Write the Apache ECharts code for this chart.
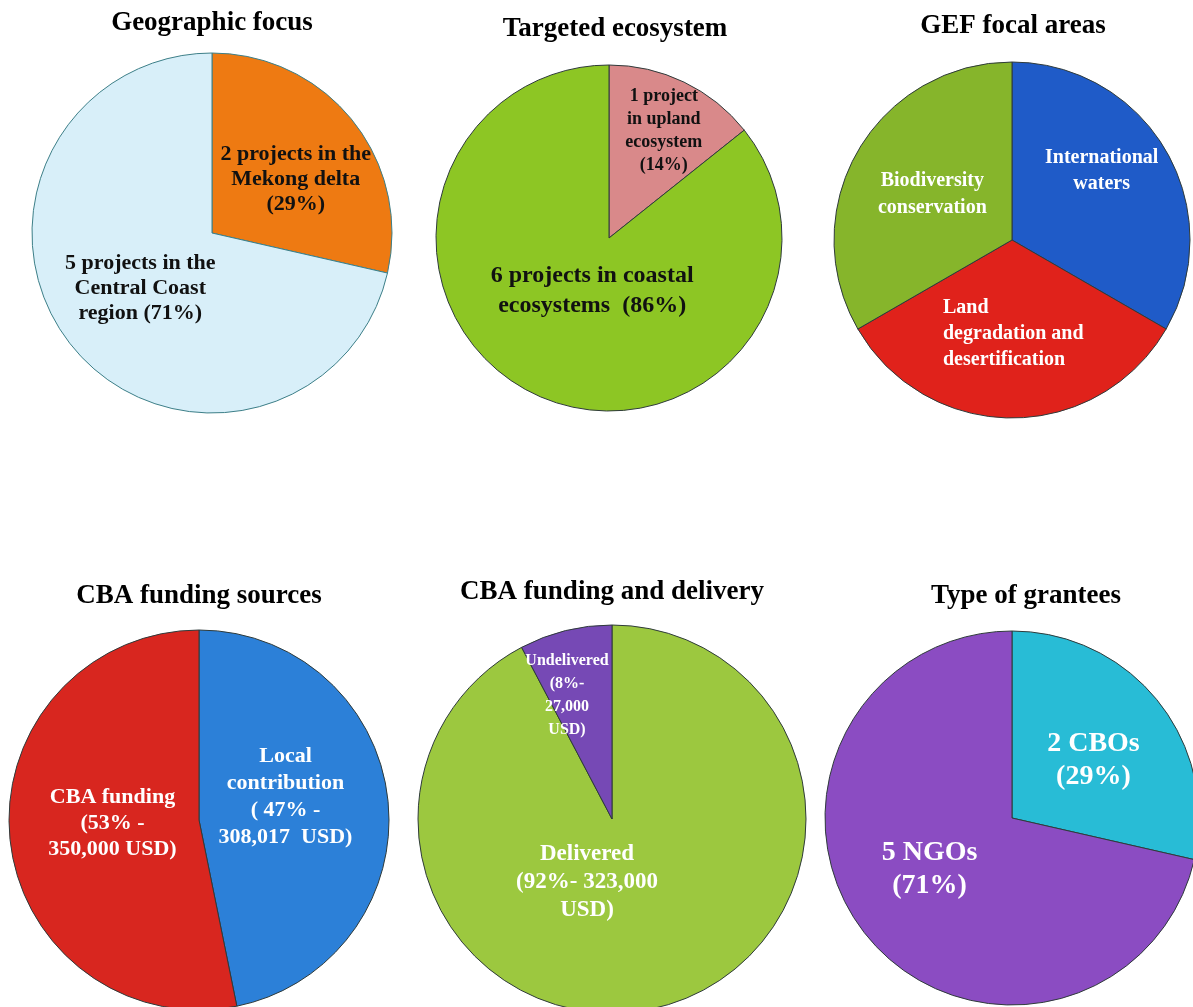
<!DOCTYPE html>
<html>
<head>
<meta charset="utf-8">
<script src="https://cdn.jsdelivr.net/npm/echarts@6/dist/echarts.min.js"></script>
<style>
  html, body { margin: 0; padding: 0; background: #fff; }
  #chart { width: 1193px; height: 1007px; }
</style>
</head>
<body>
<div id="chart"></div>
<script>
// chart data, one small set per pie (slices go clockwise from 12 o'clock)
var geoNames = ['Mekong delta', 'Central Coast'];
var geoValues = [2, 5];
var geoLabels = ['2 projects in the\nMekong delta\n(29%)', '5 projects in the\nCentral Coast\nregion (71%)'];

var ecoNames = ['Upland', 'Coastal'];
var ecoValues = [1, 6];
var ecoLabels = ['1 project\nin upland\necosystem\n(14%)', '6 projects in coastal\necosystems  (86%)'];

var gefNames = ['International waters', 'Land degradation', 'Biodiversity'];
var gefValues = [1, 1, 1];
var gefLabels = ['International\nwaters', 'Land\ndegradation and\ndesertification', 'Biodiversity\nconservation'];

var srcNames = ['Local contribution', 'CBA funding'];
var srcValues = [308017, 350000];
var srcLabels = ['Local\ncontribution\n( 47% -\n308,017  USD)', 'CBA funding\n(53% -\n350,000 USD)'];

var delNames = ['Delivered', 'Undelivered'];
var delValues = [323000, 27000];
var delLabels = ['Delivered\n(92%- 323,000\nUSD)', 'Undelivered\n(8%-\n27,000\nUSD)'];

var grNames = ['CBOs', 'NGOs'];
var grValues = [2, 5];
var grLabels = ['2 CBOs\n(29%)', '5 NGOs\n(71%)'];

var titles = ['Geographic focus', 'Targeted ecosystem', 'GEF focal areas',
              'CBA funding sources', 'CBA funding and delivery', 'Type of grantees'];

var serif = '"Liberation Serif", "DejaVu Serif", serif';

function makeData(names, values, labels, colors, styles) {
  return names.map(function (n, i) {
    return {
      name: n,
      value: values[i],
      itemStyle: { color: colors[i] },
      label: Object.assign({ formatter: labels[i] }, styles[i])
    };
  });
}

// offsets: [dx, dy, align?] nudges for each slice label
function pie(center, radius, data, offsets, border) {
  return {
    type: 'pie',
    center: center,
    radius: radius,
    startAngle: 90,
    clockwise: true,
    avoidLabelOverlap: false,
    silent: true,
    itemStyle: { borderColor: border || '#2f3b3b', borderWidth: 1 },
    label: {
      show: true,
      position: 'inside',
      fontFamily: serif,
      fontWeight: 'bold'
    },
    labelLine: { show: false },
    labelLayout: function (p) {
      var o = offsets[p.dataIndex];
      var r = { dx: o[0], dy: o[1] };
      if (o[2]) r.align = o[2];
      return r;
    },
    data: data
  };
}

var dark = '#111';
var white = '#fff';

var series = [
  pie([212, 233], 180,
    makeData(geoNames, geoValues, geoLabels, ['#EE7A12', '#D8EFF9'], [
      { color: dark, fontSize: 22, lineHeight: 25 },
      { color: dark, fontSize: 22, lineHeight: 25 }
    ]), [[11, 4], [1, -3]], '#3d7f88'),
  pie([609, 238], 173,
    makeData(ecoNames, ecoValues, ecoLabels, ['#D9898A', '#8DC624'], [
      { color: dark, fontSize: 18, lineHeight: 23 },
      { color: dark, fontSize: 24, lineHeight: 30 }
    ]), [[16, -27], [22, -28]]),
  pie([1012, 240], 178,
    makeData(gefNames, gefValues, gefLabels, ['#1F5BC8', '#E0221B', '#86B52B'], [
      { color: white, fontSize: 20, lineHeight: 26 },
      { color: white, fontSize: 20, lineHeight: 26 },
      { color: white, fontSize: 20, lineHeight: 27 }
    ]), [[10, -23], [-69, 2, 'left'], [0, 0]]),
  pie([199, 820], 190,
    makeData(srcNames, srcValues, srcLabels, ['#2C80D8', '#D8261F'], [
      { color: white, fontSize: 22, lineHeight: 27 },
      { color: white, fontSize: 22, lineHeight: 26 }
    ]), [[-11, -13], [11, -6]]),
  pie([612, 819], 194,
    makeData(delNames, delValues, delLabels, ['#9CC83F', '#7649B5'], [
      { color: white, fontSize: 23, lineHeight: 28 },
      { color: white, fontSize: 16, lineHeight: 23 }
    ]), [[-49, -34], [-21, -27]]),
  pie([1012, 818], 187,
    makeData(grNames, grValues, grLabels, ['#28BCD6', '#8B4CC2'], [
      { color: white, fontSize: 28, lineHeight: 33 },
      { color: white, fontSize: 28, lineHeight: 33 }
    ]), [[6, 2], [-7, -9]])
];

var titlePos = [[212, 22], [615, 28], [1013, 25], [199, 595], [612, 591], [1026, 595]];

var option = {
  animation: false,
  backgroundColor: '#fff',
  title: titles.map(function (t, i) {
    return {
      text: t,
      left: titlePos[i][0],
      top: titlePos[i][1] - 12,
      textAlign: 'center',
      padding: 0,
      textStyle: { fontFamily: serif, fontWeight: 'bold', fontSize: 27, color: '#000' }
    };
  }),
  series: series
};

var myChart = echarts.init(document.getElementById('chart'));
myChart.setOption(option);
</script>
</body>
</html>
